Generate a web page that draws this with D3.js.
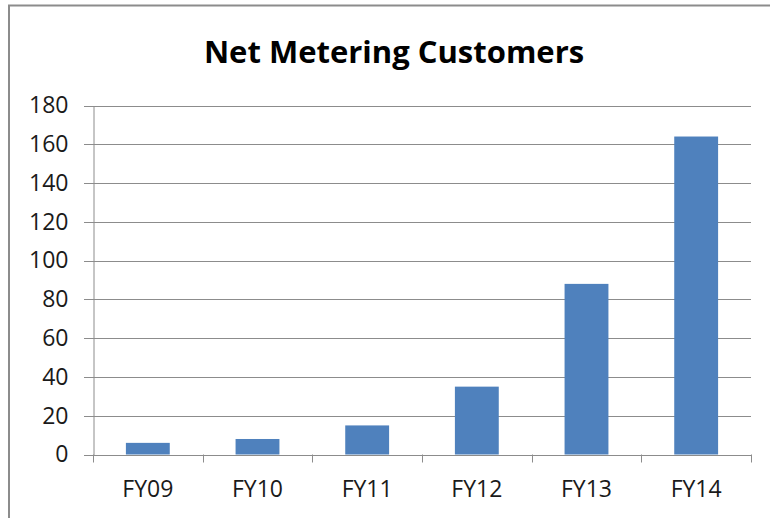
<!DOCTYPE html>
<html>
<head>
<meta charset="utf-8">
<script src="https://cdn.jsdelivr.net/npm/d3@7"></script>
<style>
  body { margin: 0; background: #fff; }
  svg { display: block; }
</style>
</head>
<body>
<div id="chart"></div>
<script>
// Datos del gráfico
const categories = ["FY09", "FY10", "FY11", "FY12", "FY13", "FY14"];
const customers = [6, 8, 15, 35, 88, 164];
const yTicks = [0, 20, 40, 60, 80, 100, 120, 140, 160, 180];
const chartTitle = "Net Metering Customers";

const width = 770, height = 518;
const margin = { top: 105.5, right: 19, bottom: 63.5, left: 93 };

const svg = d3.select("#chart").append("svg")
    .attr("width", width)
    .attr("height", height)
    .style("font-family", "'Open Sans', sans-serif");

// Marco exterior (solo arriba y a la izquierda visibles)
svg.append("path")
    .attr("d", `M9,${height} V5.5 H${width}`)
    .attr("fill", "none")
    .attr("stroke", "#8c8c8c")
    .attr("stroke-width", 2);

const x = d3.scaleBand()
    .domain(categories)
    .range([margin.left, width - margin.right])
    .paddingInner(0.6)
    .paddingOuter(0.3);

const y = d3.scaleLinear()
    .domain([0, 180])
    .range([height - margin.bottom, margin.top]);

// Líneas de cuadrícula
svg.append("g")
    .selectAll("line")
    .data(yTicks)
    .enter().append("line")
    .attr("x1", margin.left - 9)
    .attr("x2", width - margin.right)
    .attr("y1", d => Math.round(y(d)) + 0.5)
    .attr("y2", d => Math.round(y(d)) + 0.5)
    .attr("stroke", "#8c8c8c")
    .attr("stroke-width", 1);

// Barras
svg.append("g")
    .selectAll("rect")
    .data(categories)
    .enter().append("rect")
    .attr("x", d => x(d))
    .attr("width", x.bandwidth())
    .attr("y", (d, i) => y(customers[i]))
    .attr("height", (d, i) => y(0) - y(customers[i]))
    .attr("fill", "#4f81bd");

// Eje Y
const yAxis = svg.append("g")
    .attr("transform", `translate(${margin.left + 0.5},0)`)
    .call(d3.axisLeft(y).tickValues(yTicks).tickSize(0).tickPadding(25));
yAxis.select(".domain").attr("stroke", "#8c8c8c");
yAxis.selectAll("text")
    .attr("fill", "#1a1a1a")
    .style("font-size", "23px")
    .style("font-family", "'Open Sans', sans-serif");

// Eje X (marcas entre categorías)
const step = x.step();
const xEdges = d3.range(categories.length + 1).map(i => margin.left + i * step);
svg.append("g")
    .selectAll("line")
    .data(xEdges)
    .enter().append("line")
    .attr("x1", d => Math.round(d) + 0.5)
    .attr("x2", d => Math.round(d) + 0.5)
    .attr("y1", y(0))
    .attr("y2", y(0) + 8)
    .attr("stroke", "#8c8c8c");

svg.append("g")
    .selectAll("text")
    .data(categories)
    .enter().append("text")
    .attr("x", d => x(d) + x.bandwidth() / 2)
    .attr("y", y(0) + 42)
    .attr("text-anchor", "middle")
    .attr("fill", "#1a1a1a")
    .style("font-size", "23px")
    .text(d => d);

// Título
svg.append("text")
    .attr("x", 394)
    .attr("y", 63)
    .attr("text-anchor", "middle")
    .attr("fill", "#000")
    .style("font-size", "31px")
    .style("font-weight", "bold")
    .text(chartTitle);
</script>
</body>
</html>
